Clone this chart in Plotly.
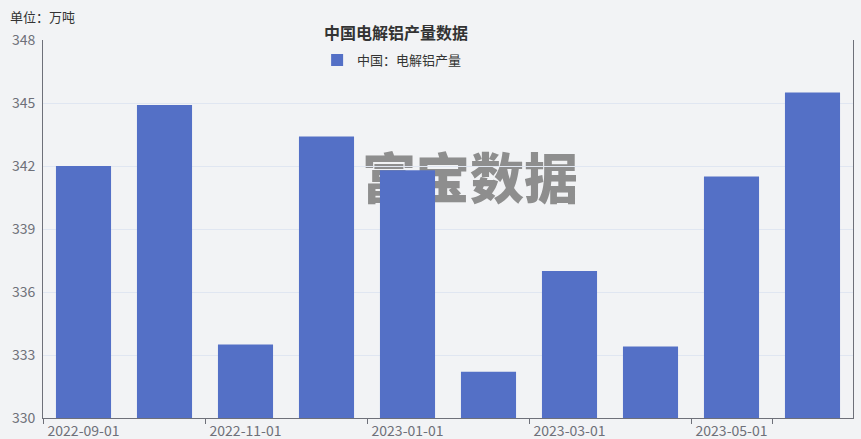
import plotly.graph_objects as go

months = ["2022-09-01", "2022-10-01", "2022-11-01", "2022-12-01", "2023-01-01",
          "2023-02-01", "2023-03-01", "2023-04-01", "2023-05-01", "2023-06-01"]
output = [342.0, 344.9, 333.5, 343.4, 341.8, 332.2, 337.0, 333.4, 341.5, 345.5]
series_name = "中国：电解铝产量"
title_text = "中国电解铝产量数据"
unit_text = "单位：万吨"
watermark_text = "富宝数据"
y_ticks = [330, 333, 336, 339, 342, 345, 348]

BG = "#f2f3f5"
BAR = "#5470c6"
AXIS = "#6e7079"
GRID = "#e0e6f1"
FONT = "Noto Sans CJK SC, sans-serif"

fig = go.Figure()

fig.add_trace(go.Bar(
    x=months, y=output, name=series_name, marker=dict(color=BAR, line=dict(width=0)),
))

# watermark: invisible shape with a text label, drawn beneath the bars
wx, wy = (470 - 43) / 810, 1 - (184 - 40) / 378
fig.add_shape(
    type="rect", xref="paper", yref="paper",
    x0=wx - 0.15, x1=wx + 0.15, y0=wy - 0.08, y1=wy + 0.08,
    line=dict(width=0), fillcolor="rgba(0,0,0,0)", layer="between",
    label=dict(text=watermark_text, textposition="middle center",
               font=dict(size=54, color="#8e8e8e", family=FONT, weight=900)),
)

fig.update_layout(
    width=861, height=439,
    margin=dict(l=43, r=8, t=40, b=21),
    paper_bgcolor=BG, plot_bgcolor=BG,
    font=dict(family=FONT, color=AXIS, size=14),
    bargap=0.32,
    xaxis=dict(
        type="category",
        categoryorder="array", categoryarray=months,
        tickmode="array", tickvals=months[::2], ticktext=months[::2],
        tickson="boundaries", ticks="outside", ticklen=5, tickcolor=AXIS,
        showline=True, linecolor=AXIS, linewidth=1, showgrid=False,
        tickfont=dict(size=14, color=AXIS), automargin=False,
    ),
    yaxis=dict(
        range=[330, 348],
        tickmode="array", tickvals=y_ticks,
        showgrid=True, gridcolor=GRID, gridwidth=1,
        showline=True, linecolor=AXIS, linewidth=1, mirror=True,
        ticks="", zeroline=False, tickfont=dict(size=14, color=AXIS),
        ticklabelstandoff=4, automargin=False,
    ),
    legend=dict(
        orientation="h", x=0.431, xanchor="center", y=0.947, yanchor="middle",
        bgcolor="rgba(0,0,0,0)", font=dict(size=13, color="#333333"),
    ),
    showlegend=True,
    annotations=[
        dict(text="<b>" + title_text + "</b>", xref="paper", yref="paper",
             x=0.4358, y=1 + (40 - 32) / 378, xanchor="center", yanchor="middle",
             showarrow=False, font=dict(size=16, color="#333333", family=FONT),
             bgcolor=BG, width=200, height=22),
        dict(text=unit_text, xref="paper", yref="paper",
             x=(8 - 43) / 810, y=1 + (40 - 16) / 378, xanchor="left", yanchor="middle",
             showarrow=False, font=dict(size=13, color="#333333", family=FONT)),
    ],
)

fig.write_html("out.html", post_script="document.body.style.margin='0px';",
               config={"displayModeBar": False})
